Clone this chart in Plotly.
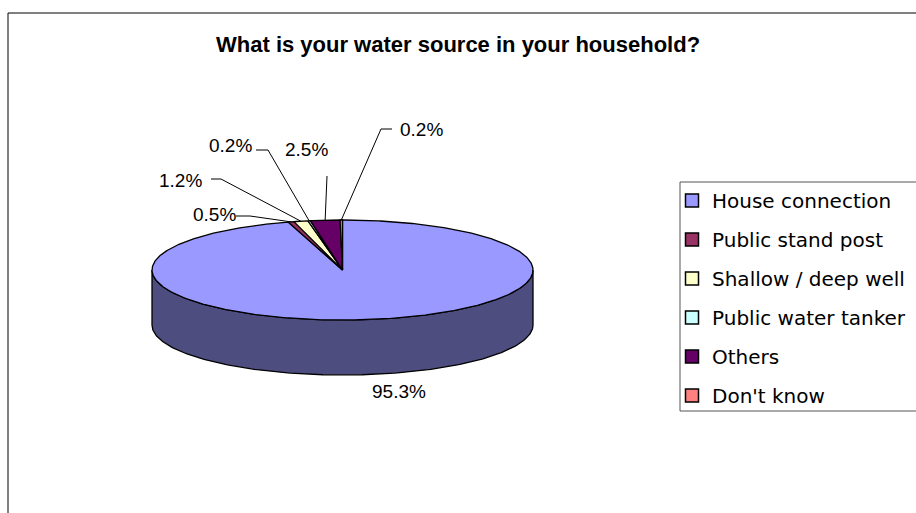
import numpy as np
import plotly.graph_objects as go

# Survey answers: main water source of the household (percent of respondents)
categories = ["House connection", "Public stand post", "Shallow / deep well",
              "Public water tanker", "Others", "Don't know"]
shares = [95.3, 0.5, 1.2, 0.2, 2.5, 0.2]

# Slice colours: top face and the darker shade used for the pie's side wall
top_colors = ["#9999FF", "#993366", "#FFFFCC", "#CCFFFF", "#660066", "#FF8080"]
side_colors = ["#4D4D80", "#4D1A33", "#808066", "#668080", "#330033", "#804040"]

# Pie geometry in page pixels (x right, y down)
CX, CY, RX, RY, DEPTH = 342.5, 270.0, 190.5, 50.0, 55.0

# Label placement: text centre and the elbow of the leader line (None = no leader)
label_xy = [(399, 391), (214, 214), (180, 180), (230, 145), (306, 149), (421, 129)]
leader_elbow = [None, [(250, 216), (236, 216)], [(221, 179), (211, 179)],
                [(268, 150), (256, 150)], [(327, 176)], [(381, 129), (392, 129)]]

FONT = "Liberation Sans, Arial, sans-serif"
LEGEND_FONT = "DejaVu Sans, sans-serif"


def rim(theta, dy=0.0):
    t = np.radians(theta)
    return CX + RX * np.sin(t), CY - RY * np.cos(t) + dy


total = sum(shares)
bounds = np.concatenate([[0.0], np.cumsum(shares) / total * 360.0])

fig = go.Figure()

# Side wall: only the front half (90..270 degrees clockwise from 12 o'clock) is visible
for i in range(len(shares)):
    a0, a1 = max(bounds[i], 90.0), min(bounds[i + 1], 270.0)
    if a1 <= a0:
        continue
    th = np.linspace(a0, a1, 200)
    tx, ty = rim(th)
    bx, by = rim(th[::-1], DEPTH)
    fig.add_trace(go.Scatter(
        x=np.concatenate([tx, bx, tx[:1]]), y=np.concatenate([ty, by, ty[:1]]),
        mode="lines", fill="toself", fillcolor=side_colors[i],
        line=dict(color="black", width=1.3), hoverinfo="skip", showlegend=False))

# Top face slices
for i in range(len(shares)):
    n = max(int((bounds[i + 1] - bounds[i]) * 2), 4)
    th = np.linspace(bounds[i], bounds[i + 1], n)
    ax, ay = rim(th)
    fig.add_trace(go.Scatter(
        x=np.concatenate([[CX], ax, [CX]]), y=np.concatenate([[CY], ay, [CY]]),
        mode="lines", fill="toself", fillcolor=top_colors[i],
        line=dict(color="black", width=1.3), hoverinfo="skip", showlegend=False))

# Leader lines from each small slice's rim to its label
for i in range(len(shares)):
    if leader_elbow[i] is None:
        continue
    mx, my = rim((bounds[i] + bounds[i + 1]) / 2)
    pts = [(mx, my)] + leader_elbow[i]
    fig.add_trace(go.Scatter(
        x=[p[0] for p in pts], y=[p[1] for p in pts], mode="lines",
        line=dict(color="black", width=1), hoverinfo="skip", showlegend=False))

# Percentage labels
for i, v in enumerate(shares):
    fig.add_annotation(x=label_xy[i][0], y=label_xy[i][1], text=f"{v}%",
                       showarrow=False, xref="x", yref="y",
                       font=dict(family=FONT, size=19, color="black"))

# Legend entries
for i, name in enumerate(categories):
    fig.add_trace(go.Scatter(
        x=[None], y=[None], mode="markers", name=name, legendgroup=str(i),
        marker=dict(symbol="square", size=13, color=top_colors[i],
                    line=dict(color="black", width=1.5))))

fig.add_annotation(x=458, y=44, text="<b>What is your water source in your household?</b>",
                   showarrow=False, xref="x", yref="y",
                   font=dict(family=FONT, size=22, color="black"))

# Chart frame (top and left edges visible)
fig.add_shape(type="line", x0=8, y0=13, x1=916, y1=13, xref="x", yref="y",
              line=dict(color="black", width=1))
fig.add_shape(type="line", x0=8, y0=13, x1=8, y1=513, xref="x", yref="y",
              line=dict(color="black", width=1))
# Legend box
fig.add_shape(type="rect", x0=680, y0=182, x1=930, y1=411, xref="x", yref="y",
              line=dict(color="#555555", width=1), fillcolor="white", layer="below")

fig.update_layout(
    width=916, height=513, autosize=False,
    margin=dict(l=0, r=0, t=0, b=0),
    paper_bgcolor="white", plot_bgcolor="white",
    xaxis=dict(range=[0, 916], visible=False, fixedrange=True),
    yaxis=dict(range=[513, 0], visible=False, fixedrange=True),
    showlegend=True,
    legend=dict(x=672 / 916, y=1 - 181 / 513, xanchor="left", yanchor="top",
                bgcolor="rgba(0,0,0,0)", borderwidth=0,
                font=dict(family=LEGEND_FONT, size=20, color="black"),
                traceorder="grouped", tracegroupgap=10,
                itemclick=False, itemdoubleclick=False),
)

fig.write_html("out.html")
